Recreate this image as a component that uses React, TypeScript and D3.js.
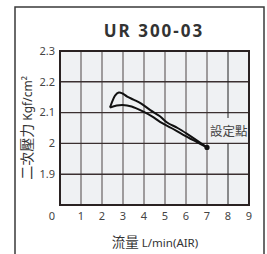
import { useEffect, useRef } from "react";
import * as d3 from "d3";

const xTicks = [1, 2, 3, 4, 5, 6, 7, 8, 9];
const yTicks = [1.9, 2.0, 2.1, 2.2, 2.3];

// hysteresis loop
const upperCurve: [number, number][] = [
  [2.38, 2.116], [2.5, 2.138], [2.62, 2.155], [2.8, 2.165], [2.98, 2.162],
  [3.2, 2.152], [3.5, 2.142], [3.85, 2.13], [4.3, 2.108], [4.76, 2.088],
  [5.1, 2.068], [5.6, 2.05], [6.05, 2.031], [6.6, 2.006], [7.0, 1.987],
];
const lowerCurve: [number, number][] = [
  [2.38, 2.116], [2.7, 2.123], [2.98, 2.125], [3.41, 2.12], [3.97, 2.103],
  [4.4, 2.087], [4.76, 2.07], [5.3, 2.05], [5.87, 2.028], [6.5, 2.005], [7.0, 1.987],
];
const setPointX = 8;

const x = d3.scaleLinear().domain([0, 9]).range([60, 249]);
const y = d3.scaleLinear().domain([1.8, 2.3]).range([205, 51]);

export default function App() {
  const gridRef = useRef<SVGGElement>(null);

  const lineGen = d3
    .line<[number, number]>()
    .x((d) => x(d[0]))
    .y((d) => y(d[1]))
    .curve(d3.curveCatmullRom);

  const cjk = "'Noto Sans CJK TC', 'Noto Sans', sans-serif";
  const latin = "'Noto Sans', 'Open Sans', sans-serif";
  const last = upperCurve[upperCurve.length - 1];
  const [x0, x1] = x.range();
  const [y0, y1] = y.range();

  useEffect(() => {
    const g = d3.select(gridRef.current);
    g.selectAll("*").remove();
    g.append("rect")
      .attr("x", x0)
      .attr("y", y1)
      .attr("width", x1 - x0)
      .attr("height", y0 - y1)
      .attr("fill", "#eff1f3");
    g.selectAll("line.v")
      .data(xTicks.filter((t) => t < setPointX))
      .join("line")
      .attr("class", "v")
      .attr("x1", (d) => x(d))
      .attr("x2", (d) => x(d))
      .attr("y1", y1)
      .attr("y2", y0)
      .attr("stroke", "#8a8686")
      .attr("stroke-width", 1.6);
    g.selectAll("line.h")
      .data(yTicks.filter((t) => t < 2.25))
      .join("line")
      .attr("class", "h")
      .attr("x1", x0)
      .attr("x2", x1)
      .attr("y1", (d) => y(d))
      .attr("y2", (d) => y(d))
      .attr("stroke", "#3b3030")
      .attr("stroke-width", 1.4);
    // set point marker, broken around its label
    g.append("line")
      .attr("x1", x(setPointX)).attr("x2", x(setPointX))
      .attr("y1", y1).attr("y2", 118)
      .attr("stroke", "#222").attr("stroke-width", 1);
    g.append("line")
      .attr("x1", x(setPointX)).attr("x2", x(setPointX))
      .attr("y1", 143).attr("y2", y0)
      .attr("stroke", "#222").attr("stroke-width", 1);
    g.append("rect")
      .attr("x", x0)
      .attr("y", y1)
      .attr("width", x1 - x0)
      .attr("height", y0 - y1)
      .attr("fill", "none")
      .attr("stroke", "#2a2222")
      .attr("stroke-width", 2);
  }, []);

  return (
    <svg width={267} height={254} style={{ position: "absolute", left: 0, top: 0 }}>
      <rect x={15} y={7} width={249} height={260} fill="#fff" stroke="#3a3a3a" strokeWidth={1.5} />
      <g ref={gridRef} />

      <path d={lineGen(upperCurve) ?? ""} fill="none" stroke="#111" strokeWidth={2} />
      <path d={lineGen(lowerCurve) ?? ""} fill="none" stroke="#111" strokeWidth={2} />
      <circle cx={x(last[0])} cy={y(last[1])} r={2.6} fill="#111" />

      <text x={210} y={136} fontFamily={cjk} fontSize={12.5} fill="#444">
        設定點
      </text>
      {xTicks.map((t) => (
        <text key={"x" + t} x={x(t)} y={220} textAnchor="middle" fontFamily={latin} fontSize={11} fill="#444">
          {t}
        </text>
      ))}
      <text x={x(0) - 8} y={220} textAnchor="middle" fontFamily={latin} fontSize={11} fill="#444">
        0
      </text>
      {yTicks.map((t) => (
        <text key={"y" + t} x={55} y={y(t)} dy="0.35em" textAnchor="end" fontFamily={latin} fontSize={11} fill="#444">
          {d3.format("~g")(t)}
        </text>
      ))}
      <text x={155} y={247} textAnchor="middle" fill="#333">
        <tspan fontFamily={cjk} fontSize={13.5}>流量 </tspan>
        <tspan fontFamily={latin} fontSize={11.5}>L/min(AIR)</tspan>
      </text>
      <text transform="translate(32,128) rotate(-90)" textAnchor="middle" fill="#333">
        <tspan fontFamily={cjk} fontSize={14}>二次壓力 </tspan>
        <tspan fontFamily={latin} fontSize={12}>Kgf/cm²</tspan>
      </text>
      <text x={154} y={37} textAnchor="middle" fontFamily={latin} fontWeight={700} fontSize={17} letterSpacing={2} fill="#333">
        UR 300-03
      </text>
    </svg>
  );
}
